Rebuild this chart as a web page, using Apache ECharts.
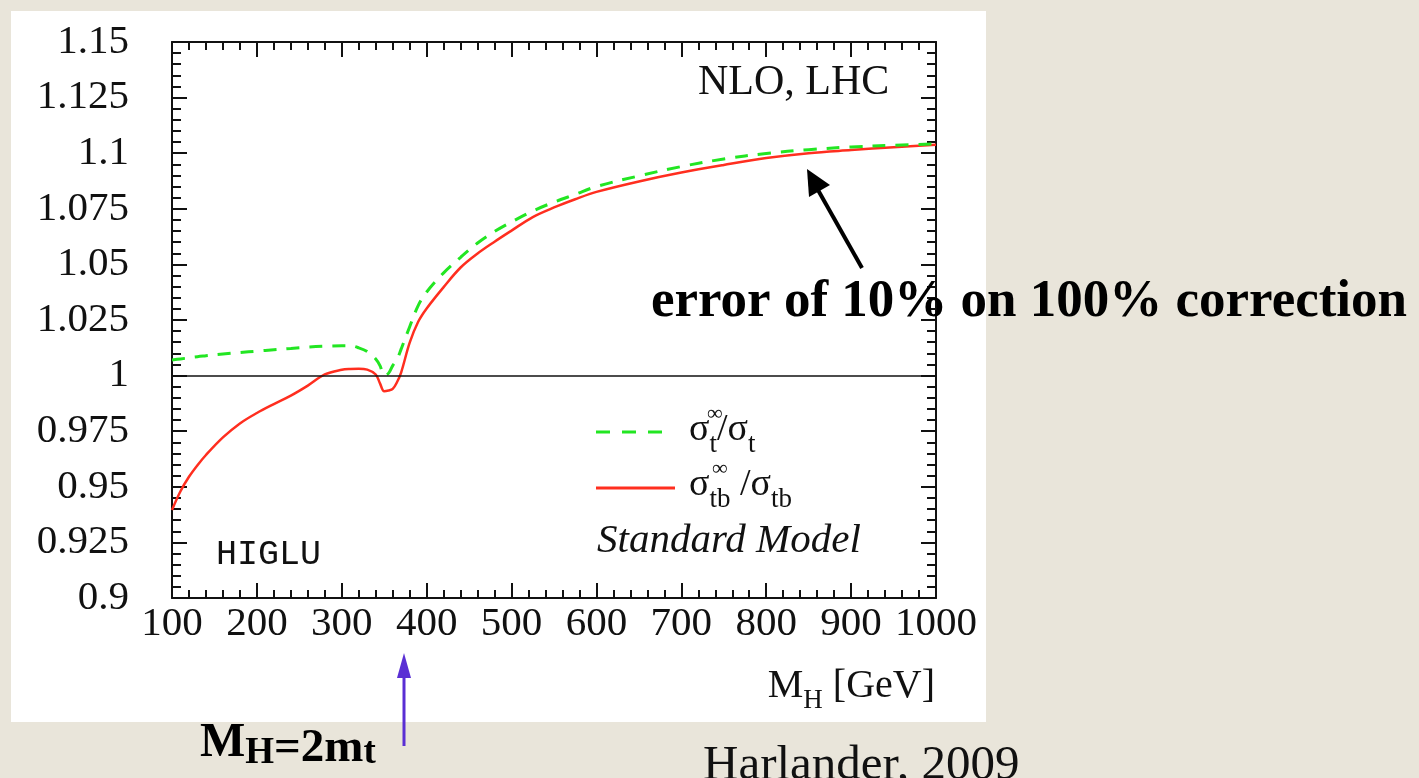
<!DOCTYPE html>
<html>
<head>
<meta charset="utf-8">
<script src="https://cdn.jsdelivr.net/npm/echarts@6/dist/echarts.min.js"></script>
<style>
html,body{margin:0;padding:0;background:#e9e5da;}
#chart{width:1419px;height:778px;}
</style>
</head>
<body>
<div id="chart"></div>
<script>
// ---- data ----
const massGeV = [100,110,120,130,140,160,180,200,220,240,260,280,300,310,320,330,340,345,350,355,360,365,370,380,390,400,420,440,460,480,500,525,550,575,600,650,700,750,800,850,900,950,1000];
const ratioTB = [0.9396,0.9480,0.9545,0.9597,0.9643,0.9722,0.9785,0.9832,0.9872,0.9910,0.9955,1.0005,1.0026,1.0030,1.0031,1.0027,1.0005,0.9965,0.9930,0.9933,0.9940,0.9970,1.0015,1.0148,1.0242,1.0302,1.0398,1.0486,1.0549,1.0602,1.0652,1.0713,1.0756,1.0793,1.0826,1.0873,1.0913,1.0947,1.0978,1.1000,1.1014,1.1027,1.1038];
const ratioT  = [1.0070,1.0075,1.0080,1.0085,1.0089,1.0097,1.0104,1.0110,1.0116,1.0122,1.0128,1.0132,1.0134,1.0134,1.0125,1.0108,1.0075,1.0045,1.0000,1.0010,1.0045,1.0072,1.0120,1.0220,1.0315,1.0376,1.0462,1.0532,1.0596,1.0648,1.0691,1.0740,1.0780,1.0815,1.0850,1.0898,1.0940,1.0974,1.0999,1.1016,1.1028,1.1036,1.1042];
const xTickLabels = ['100','200','300','400','500','600','700','800','900','1000'];
const yTickLabels = ['0.9','0.925','0.95','0.975','1','1.025','1.05','1.075','1.1','1.125','1.15'];
const referenceLevel = 1;

// ---- styling ----
const SERIF = 'Liberation Serif';
const INK = '#111111';
function findLabel(list, v){
  const s = list.find(t => Math.abs(parseFloat(t) - v) < 1e-6);
  return s === undefined ? '' : s;
}
function axisBase(){
  return {
    type: 'value',
    axisLine: {show: true, onZero: false, lineStyle: {color: INK, width: 2}},
    axisTick: {show: true, inside: true, length: 15, lineStyle: {color: INK, width: 2}},
    minorTick: {show: true, splitNumber: 5, length: 8, lineStyle: {color: INK, width: 2}},
    splitLine: {show: false},
    minorSplitLine: {show: false}
  };
}
const xBottom = Object.assign(axisBase(), {
  position: 'bottom', min: 100, max: 1000, interval: 100,
  axisLabel: {show: true, fontFamily: SERIF, fontSize: 41, color: INK, margin: 6,
    formatter: v => findLabel(xTickLabels, v)}
});
const xTop = Object.assign(axisBase(), {
  position: 'top', min: 100, max: 1000, interval: 100, axisLabel: {show: false}
});
const yLeft = Object.assign(axisBase(), {
  position: 'left', min: 0.9, max: 1.15, interval: 0.025,
  axisLabel: {show: true, fontFamily: SERIF, fontSize: 41, color: INK, margin: 43,
    formatter: v => findLabel(yTickLabels, v)}
});
yLeft.minorTick.length = 9;
const yRight = Object.assign(axisBase(), {
  position: 'right', min: 0.9, max: 1.15, interval: 0.025, axisLabel: {show: false}
});
yRight.minorTick.length = 9;

const RED = '#ff2e1f';
const GREEN = '#22e622';

const chart = echarts.init(document.getElementById('chart'), null, {renderer: 'canvas'});

const subStyle = (size, lh) => ({fontFamily: SERIF, fontSize: size, lineHeight: lh, verticalAlign: 'bottom', fill: INK});
const mainStyle = (size, lh) => ({fontFamily: SERIF, fontSize: size, lineHeight: lh, verticalAlign: 'middle', fill: INK});

chart.setOption({
  animation: false,
  backgroundColor: '#e9e5da',
  grid: {left: 172, top: 42, width: 764, height: 556, containLabel: false},
  xAxis: [xBottom, xTop],
  yAxis: [yLeft, yRight],
  series: [
    {
      name: 'σtb∞/σtb', type: 'line', xAxisIndex: 0, yAxisIndex: 0,
      data: massGeV.map((m, i) => [m, ratioTB[i]]),
      showSymbol: false, smooth: 0.35,
      lineStyle: {color: RED, width: 2.5},
      markLine: {
        silent: true, symbol: 'none', label: {show: false},
        lineStyle: {color: INK, width: 1.5, type: 'solid'},
        data: [{yAxis: referenceLevel}]
      },
      z: 3
    },
    {
      name: 'σt∞/σt', type: 'line', xAxisIndex: 0, yAxisIndex: 0,
      data: massGeV.map((m, i) => [m, ratioT[i]]),
      showSymbol: false, smooth: 0.35,
      lineStyle: {color: GREEN, width: 3, type: [13, 10]},
      z: 4
    }
  ],
  graphic: [
    // white slide panel behind the plot
    {type: 'rect', z: -10, shape: {x: 11, y: 11, width: 975, height: 711}, style: {fill: '#ffffff'}},
    // inset labels
    {type: 'text', x: 698, y: 83, z: 10, style: {text: 'NLO, LHC', fontFamily: SERIF, fontSize: 42, fill: INK, align: 'left', verticalAlign: 'middle'}},
    {type: 'text', x: 216, y: 555, z: 10, style: {text: 'HIGLU', fontFamily: 'Liberation Mono', fontSize: 35, fill: INK, align: 'left', verticalAlign: 'middle'}},
    {type: 'text', x: 597, y: 541, z: 10, style: {text: 'Standard Model', fontFamily: SERIF, fontStyle: 'italic', fontSize: 41, fill: INK, align: 'left', verticalAlign: 'middle'}},
    // legend samples
    {type: 'line', z: 10, shape: {x1: 596, y1: 432, x2: 662, y2: 432}, style: {stroke: GREEN, lineWidth: 3, lineDash: [14, 12]}},
    {type: 'line', z: 10, shape: {x1: 596, y1: 488, x2: 675, y2: 488}, style: {stroke: RED, lineWidth: 3}},
    {type: 'text', x: 689, y: 430, z: 10, style: {
      text: '{m|σ}{s|t}{m|/σ}{s|t}', align: 'left', verticalAlign: 'middle', fill: INK,
      rich: {m: mainStyle(38, 56), s: subStyle(27, 30)}}},
    {type: 'text', x: 707, y: 414, z: 10, style: {text: '∞', fontFamily: SERIF, fontSize: 22, fill: INK, align: 'left', verticalAlign: 'middle'}},
    {type: 'text', x: 689, y: 485, z: 10, style: {
      text: '{m|σ}{s|tb}{m| /σ}{s|tb}', align: 'left', verticalAlign: 'middle', fill: INK,
      rich: {m: mainStyle(38, 56), s: subStyle(27, 30)}}},
    {type: 'text', x: 712, y: 469, z: 10, style: {text: '∞', fontFamily: SERIF, fontSize: 22, fill: INK, align: 'left', verticalAlign: 'middle'}},
    // x axis title
    {type: 'text', x: 935, y: 686, z: 10, style: {
      text: '{m|M}{s|H}{m| [GeV]}', align: 'right', verticalAlign: 'middle', fill: INK,
      rich: {m: mainStyle(40, 56), s: subStyle(27, 30)}}},
    // black annotation arrow
    {type: 'line', z: 12, shape: {x1: 862, y1: 268, x2: 818, y2: 190}, style: {stroke: '#000', lineWidth: 4}},
    {type: 'polygon', z: 12, shape: {points: [[807, 169], [830, 185], [809, 197]]}, style: {fill: '#000'}},
    {type: 'text', x: 651, y: 302, z: 12, style: {text: 'error of 10% on 100% correction', fontFamily: SERIF, fontWeight: 'bold', fontSize: 53, fill: '#000', align: 'left', verticalAlign: 'middle'}},
    // purple threshold arrow
    {type: 'line', z: 12, shape: {x1: 404, y1: 746, x2: 404, y2: 672}, style: {stroke: '#5a2fd4', lineWidth: 3}},
    {type: 'polygon', z: 12, shape: {points: [[404, 653], [411, 678], [397, 678]]}, style: {fill: '#5a2fd4'}},
    {type: 'text', x: 200, y: 744, z: 12, style: {
      text: '{m|M}{s|H}{n|=2m}{t|t}', align: 'left', verticalAlign: 'middle', fill: '#000',
      rich: {
        m: {fontFamily: SERIF, fontWeight: 'bold', fontSize: 48, lineHeight: 56, verticalAlign: 'middle', fill: '#000'},
        s: {fontFamily: SERIF, fontWeight: 'bold', fontSize: 37, lineHeight: 38, verticalAlign: 'bottom', fill: '#000'},
        n: {fontFamily: SERIF, fontWeight: 'bold', fontSize: 47, lineHeight: 50, verticalAlign: 'bottom', fill: '#000'},
        t: {fontFamily: SERIF, fontWeight: 'bold', fontSize: 37, lineHeight: 32, verticalAlign: 'bottom', fill: '#000'}
      }}},
    {type: 'text', x: 703, y: 766, z: 12, style: {text: 'Harlander, 2009', fontFamily: SERIF, fontSize: 49, fill: '#111', align: 'left', verticalAlign: 'middle'}}
  ]
});
</script>
</body>
</html>
